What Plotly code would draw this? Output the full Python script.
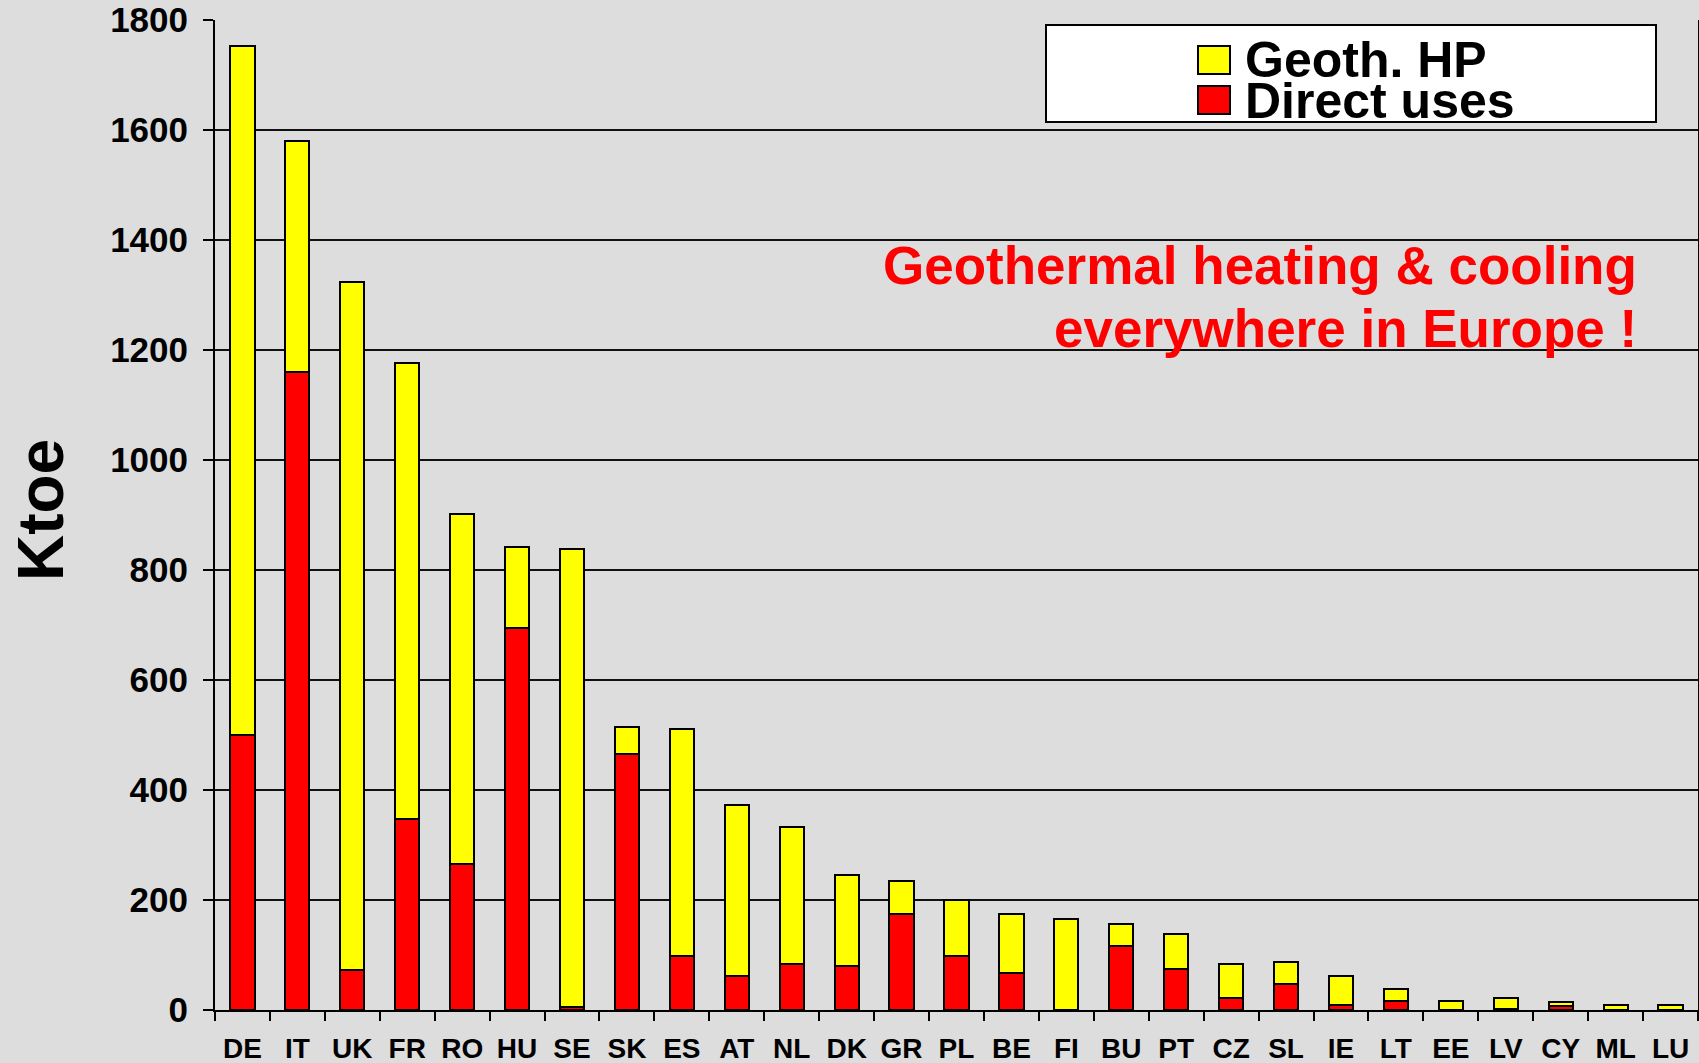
import plotly.graph_objects as go

countries = ["DE", "IT", "UK", "FR", "RO", "HU", "SE", "SK", "ES", "AT", "NL", "DK", "GR",
             "PL", "BE", "FI", "BU", "PT", "CZ", "SL", "IE", "LT", "EE", "LV", "CY", "ML", "LU"]
direct_uses = [500, 1160, 72, 348, 266, 694, 6, 465, 98, 61, 84, 80, 174,
               98, 68, 0, 116, 75, 21, 47, 10, 16, 0, 2, 7, 0, 0]
geoth_hp = [1253, 420, 1251, 829, 635, 148, 832, 50, 413, 312, 249, 166, 61,
            102, 106, 166, 40, 63, 63, 40, 52, 23, 17, 19, 8, 10, 10]
y_ticks = [0, 200, 400, 600, 800, 1000, 1200, 1400, 1600, 1800]

W, H = 1699, 1063
ML, MR, MT, MB = 215, 1, 20, 53
PW, PH = W - ML - MR, H - MT - MB


def px_x(x):
    return (x - ML) / PW


def px_y(y):
    return (H - MB - y) / PH


FONT = "Liberation Sans, Arial, Helvetica, sans-serif"
BG = "#dddddd"

fig = go.Figure()
fig.add_trace(go.Bar(x=countries, y=direct_uses, name="Direct uses",
                     marker=dict(color="#ff0000", line=dict(color="black", width=2))))
fig.add_trace(go.Bar(x=countries, y=geoth_hp, name="Geoth. HP",
                     marker=dict(color="#ffff00", line=dict(color="black", width=2))))

shapes = []
annotations = []
# legend box
shapes.append(dict(type="rect", xref="paper", yref="paper",
                   x0=px_x(1046), x1=px_x(1656), y0=px_y(122), y1=px_y(25),
                   fillcolor="white", line=dict(color="black", width=2), layer="above"))
for (y0, y1, col, label, yc) in [(46, 74, "#ffff00", "Geoth. HP", 60),
                                  (86, 114, "#ff0000", "Direct uses", 101)]:
    shapes.append(dict(type="rect", xref="paper", yref="paper",
                       x0=px_x(1198), x1=px_x(1230), y0=px_y(y1), y1=px_y(y0),
                       fillcolor=col, line=dict(color="black", width=2), layer="above"))
    annotations.append(dict(xref="paper", yref="paper", x=px_x(1243), y=px_y(yc),
                            xanchor="left", yanchor="middle", showarrow=False, text="<b>" + label + "</b>",
                            font=dict(family=FONT, size=50, color="black")))

annotations.append(dict(xref="paper", yref="paper", x=px_x(1639), y=px_y(265),
                        xanchor="right", yanchor="middle", showarrow=False,
                        text="<b>Geothermal heating &amp; cooling</b>",
                        font=dict(family=FONT, size=53, color="#ff0000")))
annotations.append(dict(xref="paper", yref="paper", x=px_x(1639), y=px_y(328),
                        xanchor="right", yanchor="middle", showarrow=False,
                        text="<b>everywhere in Europe !</b>",
                        font=dict(family=FONT, size=53, color="#ff0000")))
annotations.append(dict(xref="paper", yref="paper", x=px_x(41), y=px_y(510),
                        xanchor="center", yanchor="middle", showarrow=False, textangle=-90,
                        text="<b>Ktoe</b>",
                        font=dict(family=FONT, size=64, color="black")))

fig.update_layout(
    width=W, height=H,
    margin=dict(l=ML, r=MR, t=MT, b=MB, pad=0, autoexpand=False),
    paper_bgcolor=BG, plot_bgcolor=BG,
    barmode="stack", bargap=0.56,
    showlegend=False,
    font=dict(family=FONT, color="black"),
    shapes=shapes, annotations=annotations,
    xaxis=dict(type="category", tickson="boundaries", ticks="outside", ticklen=9,
               tickwidth=2, tickcolor="black", showline=True, linecolor="black", linewidth=2,
               showgrid=False, ticklabelstandoff=12, tickangle=0, automargin=False,
               tickfont=dict(family=FONT, size=28, color="black", weight="bold")),
    yaxis=dict(range=[0, 1800], tickvals=y_ticks, ticktext=[str(v) for v in y_ticks],
               ticks="outside", ticklen=10, tickwidth=2, tickcolor="black",
               showline=True, linecolor="black", linewidth=2, mirror=True,
               showgrid=True, gridcolor="#111111", gridwidth=1.5, zeroline=False,
               ticklabelstandoff=8, automargin=False,
               tickfont=dict(family=FONT, size=35, color="black", weight="bold")),
)

fig.write_html("out.html", config={"displayModeBar": False},
               post_script="document.body.style.margin='0';document.body.style.padding='0';"
                           "document.documentElement.style.overflow='hidden';")
